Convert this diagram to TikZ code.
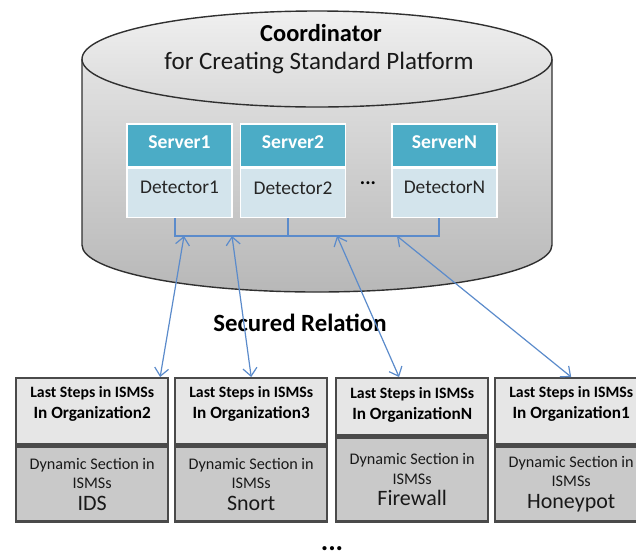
\documentclass[tikz,border=0pt]{standalone}
\usepackage{fontspec}
\setmainfont{Carlito}
\usetikzlibrary{positioning,arrows.meta,calc}

\definecolor{servhead}{HTML}{4BACC6}
\definecolor{servbody}{HTML}{D3E4EC}
\definecolor{orgtop}{HTML}{E6E6E6}
\definecolor{orgbot}{HTML}{C9C9C9}
\definecolor{orgline}{HTML}{4A4A4A}
\definecolor{linkblue}{HTML}{5B8BCB}
\definecolor{cylline}{HTML}{303030}

\tikzset{
  head/.style={fill=servhead, draw=white, line width=.6pt, minimum width=52.5pt,
    minimum height=21.5pt, inner sep=0pt, text=white,
    font=\fontsize{9.8}{12}\selectfont\bfseries, text depth=3.5pt},
  detect/.style={fill=servbody, draw=white, line width=.6pt, minimum width=52.5pt,
    minimum height=24.5pt, inner sep=0pt, text=black!85,
    font=\fontsize{9.7}{12}\selectfont, text depth=5pt},
  orghead/.style={fill=orgtop, draw=orgline, line width=1.2pt, anchor=north west,
    minimum width=76pt, minimum height=33pt, inner sep=0pt, align=center,
    font=\fontsize{7.9}{10.5}\selectfont\bfseries, text depth=9pt},
  orgdyn/.style={fill=orgbot, draw=orgline, line width=1.2pt, minimum width=76pt,
    minimum height=37.5pt, inner sep=0pt, align=center, text=black!90,
    font=\fontsize{8.1}{9.8}\selectfont},
  bus/.style={draw=linkblue, line width=.7pt},
  link/.style={{Straight Barb[length=4pt,width=7pt]}-{Straight Barb[length=4pt,width=7pt]},
    draw=linkblue, line width=.6pt},
}
\newcommand\orgname[1]{\\{\fontsize{8.6}{10.5}\selectfont In Organization#1}}
\newcommand\dyntool[1]{Dynamic Section in\\ISMSs\\[1pt]{\fontsize{11}{13}\selectfont #1}}

\begin{document}
\begin{tikzpicture}[x=.5pt,y=-.5pt]
\useasboundingbox (0,0) rectangle (636,558);

% coordinator drum
\shade[top color=black!11, bottom color=black!28] (82,59) -- (82,245)
  arc[start angle=180, end angle=0, x radius=235, y radius=47] -- (552,59) -- cycle;
\draw[cylline, line width=.7pt] (82,59) -- (82,245)
  arc[start angle=180, end angle=0, x radius=235, y radius=47] -- (552,59);
\draw[cylline, line width=.7pt, top color=black!6, bottom color=black!15]
  (317,59) ellipse [x radius=235, y radius=48];
\node[font=\fontsize{12.2}{14}\selectfont\bfseries] (coord) at (321,33) {Coordinator};
\node[font=\fontsize{12.5}{15}\selectfont, text=black!90] (purpose) at (319,63) {for Creating Standard Platform};

% servers with their detectors
\node[head] (srv1) at (179.5,145.5) {Server1};
\node[detect, below=0pt of srv1] (det1) {Detector1};
\node[head] (srv2) at (293,145.5) {Server2};
\node[detect, below=0pt of srv2] (det2) {Detector2};
\node[head] (srvN) at (444.5,145.5) {ServerN};
\node[detect, below=0pt of srvN] (detN) {DetectorN};
\node[font=\fontsize{10}{12}\selectfont\bfseries] (sdots) at (368,183) {...};

% bus under the detectors
\coordinate (b1) at (175,236);
\coordinate (b2) at (288,236);
\coordinate (bN) at (439,236);
\draw[bus] (b1 |- det1.south) -- (b1) -- (bN) -- (bN |- detN.south);
\draw[bus] (b2 |- det2.south) -- (b2);

\node[font=\fontsize{12.4}{15}\selectfont\bfseries] (rel) at (300,323) {Secured Relation};

% organizations
\node[orghead] (org2) at (15,377) {Last Steps in ISMSs\orgname{2}};
\node[orgdyn, below=0pt of org2] (dyn2) {\dyntool{IDS}};
\node[orghead] (org3) at (174,377) {Last Steps in ISMSs\orgname{3}};
\node[orgdyn, below=0pt of org3] (dyn3) {\dyntool{Snort}};
\node[orghead, minimum height=28.5pt, text depth=3.5pt] (orgN) at (335,377) {Last Steps in ISMSs\orgname{N}};
\node[orgdyn, minimum height=42pt, below=0pt of orgN] (dynN) {\dyntool{Firewall}};
\node[orghead] (org1) at (494,377) {Last Steps in ISMSs\orgname{1}};
\node[orgdyn, below=0pt of org1] (dyn1) {\dyntool{Honeypot}};
\node[font=\fontsize{14}{16}\selectfont\bfseries, inner sep=1pt] (odots) at (332,549) {...};

% secured links
\coordinate (p1) at (184,236);
\coordinate (p2) at (232,236);
\coordinate (p3) at (337,236);
\coordinate (p4) at (397,236);
\draw[link] (p1) -- ($(org2.north west)!.94!(org2.north east)$);
\draw[link] (p2) -- (org3.north);
\draw[link] (p3) -- ($(orgN.north west)!.415!(orgN.north east)$);
\draw[link] (p4) -- (org1.north);
\end{tikzpicture}
\end{document}
